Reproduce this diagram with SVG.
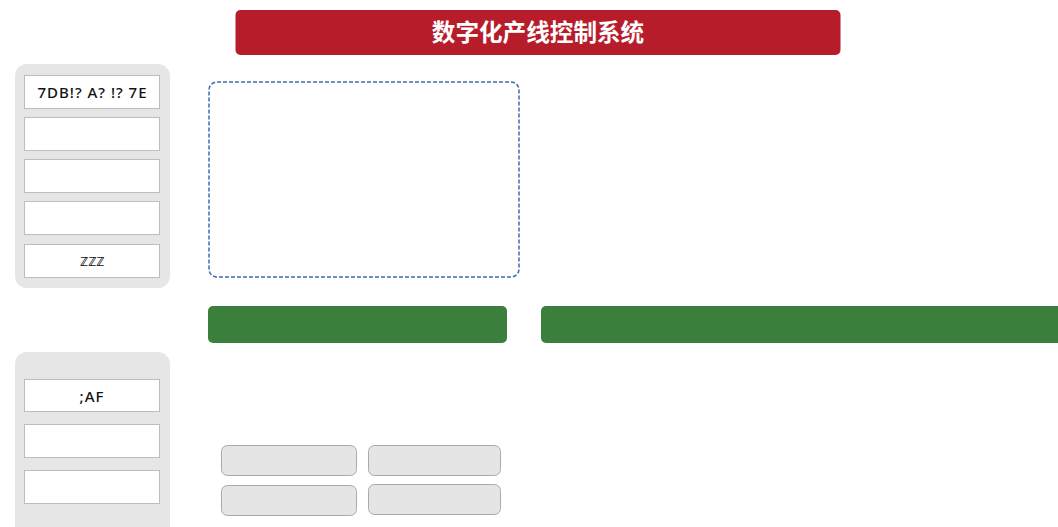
<svg xmlns="http://www.w3.org/2000/svg" width="1058" height="527" viewBox="0 0 1058 527">
<style>
.panel{fill:#e6e6e6;stroke:none}
.cell{fill:#ffffff;stroke:#bdbdbd;stroke-width:1}
.btn{fill:#e5e5e5;stroke:#aaaaaa;stroke-width:1}
.bar{fill:#3a7f3c}
.lbl{font-family:"Noto Sans","Liberation Sans","Noto Sans CJK SC",sans-serif;font-size:15px;font-weight:500;fill:#111;text-anchor:middle}
.title{font-family:"Noto Sans CJK SC","Liberation Sans",sans-serif;font-size:23.600px;font-weight:bold;fill:#fff;text-anchor:middle}
</style>
<rect width="1058" height="527" fill="#ffffff"/>
<g id="title">
<rect x="235.500" y="10" width="605" height="45" rx="5" fill="#b71c2b"/>
<text class="title" x="538" y="41">数字化产线控制系统</text>
</g>
<g id="panel-top">
<rect class="panel" x="15" y="64" width="155" height="224" rx="12"/>
<rect class="cell" x="24.500" y="75.500" width="135" height="33"/>
<text class="lbl" x="92.500" y="97.500" letter-spacing="1">7DB!? A? !? 7E</text>
<rect class="cell" x="24.500" y="117.500" width="135" height="33"/>
<rect class="cell" x="24.500" y="159.500" width="135" height="33"/>
<rect class="cell" x="24.500" y="201.500" width="135" height="33"/>
<rect class="cell" x="24.500" y="244.500" width="135" height="33"/>
<text class="lbl" x="92" y="266" style="font-size:13px;font-weight:bold">ℤℤℤ</text>
</g>
<g id="panel-bottom">
<rect class="panel" x="15" y="352" width="155" height="190" rx="12"/>
<rect class="cell" x="24.500" y="379.500" width="135" height="32"/>
<text class="lbl" x="92" y="401.500" letter-spacing="1">;AF</text>
<rect class="cell" x="24.500" y="424.500" width="135" height="33"/>
<rect class="cell" x="24.500" y="470.500" width="135" height="33"/>
</g>
<g id="dashed-area">
<rect x="209" y="82" width="310" height="195" rx="8" fill="none" stroke="#3d6cb0" stroke-width="1.5" stroke-dasharray="4,2"/>
</g>
<g id="bar-left">
<rect class="bar" x="208" y="306" width="299" height="37" rx="5"/>
</g>
<g id="bar-right">
<rect class="bar" x="541" y="306" width="530" height="37" rx="5"/>
</g>
<g id="buttons">
<rect class="btn" x="221.500" y="445.500" width="135" height="30" rx="6"/>
<rect class="btn" x="368.500" y="445.500" width="132" height="30" rx="6"/>
<rect class="btn" x="221.500" y="485.500" width="135" height="30" rx="6"/>
<rect class="btn" x="368.500" y="484.500" width="132" height="30" rx="6"/>
</g>
<g id="connectors"></g>
</svg>
